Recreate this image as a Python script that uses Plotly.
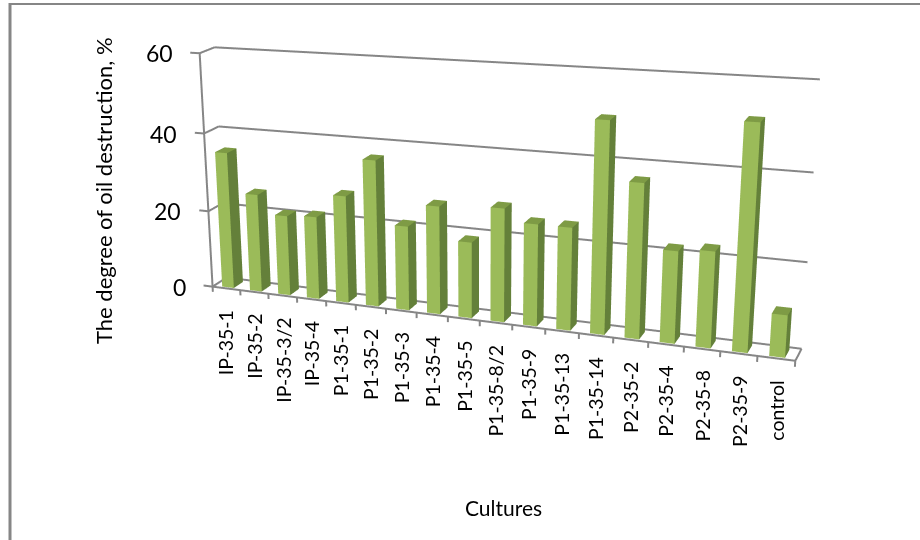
import plotly.graph_objects as go

categories = ["IP-35-1", "IP-35-2", "IP-35-3/2", "IP-35-4", "P1-35-1", "P1-35-2", "P1-35-3",
              "P1-35-4", "P1-35-5", "P1-35-8/2", "P1-35-9", "P1-35-13", "P1-35-14", "P2-35-2",
              "P2-35-4", "P2-35-8", "P2-35-9", "control"]
destruction = [35.2, 25.2, 20.5, 21.0, 27.0, 36.5, 21.0, 26.7, 18.7, 27.7, 24.7, 24.7, 50.0, 36.5,
               21.7, 22.5, 51.7, 9.8]
value_ticks = [0, 20, 40, 60]

FACE, SIDE, TOP = "#9BBB59", "#64803A", "#7E9B45"
GRID = "#868686"
FONT = "Lato"

# The walls of the box lean, so heights and depths slide sideways as they grow.
X_PER_DEPTH, X_PER_VALUE, Y_PER_VALUE = 0.24611, -0.01107, 0.13321
BAR_HALF_WIDTH = 0.21
BAR_FRONT, BAR_BACK = 0.12, 0.78


def place(cat, depth, value):
    return (cat + X_PER_DEPTH * depth + X_PER_VALUE * value,
            depth + Y_PER_VALUE * value,
            value)


# Bars: front, right side and top faces of each column.
vx, vy, vz, ti, tj, tk, colors = [], [], [], [], [], [], []
for n, val in enumerate(destruction):
    left, right = n + 0.5 - BAR_HALF_WIDTH, n + 0.5 + BAR_HALF_WIDTH
    corners = [(left, BAR_FRONT, 0), (right, BAR_FRONT, 0), (right, BAR_FRONT, val), (left, BAR_FRONT, val),
               (right, BAR_BACK, 0), (right, BAR_BACK, val), (left, BAR_BACK, val)]
    base = len(vx)
    for c in corners:
        px, py, pz = place(*c)
        vx.append(px); vy.append(py); vz.append(pz)
    quads = [((0, 1, 2, 3), FACE), ((1, 4, 5, 2), SIDE), ((3, 2, 5, 6), TOP)]
    for (a, b, c, d), col in quads:
        ti += [base + a, base + a]
        tj += [base + b, base + c]
        tk += [base + c, base + d]
        colors += [col, col]

bars = go.Mesh3d(x=vx, y=vy, z=vz, i=ti, j=tj, k=tk, facecolor=colors, flatshading=True,
                 lighting=dict(ambient=1, diffuse=0, specular=0, fresnel=0), hoverinfo="skip")

# Box edges, grid lines and tick marks.
lx, ly, lz = [], [], []


def segment(a, b):
    for p in (place(*a), place(*b)):
        lx.append(p[0]); ly.append(p[1]); lz.append(p[2])
    lx.append(None); ly.append(None); lz.append(None)


n_cat = len(categories)
for v in value_ticks:
    segment((0, 1, v), (n_cat, 1, v))
    segment((0, 0, v), (0, 1, v))
    segment((-0.33, 0, v), (0, 0, v))
segment((0, 0, 0), (0, 0, value_ticks[-1]))
segment((0, 0, 0), (n_cat, 0, 0))
segment((n_cat, 0, 0), (n_cat, 1, 0))
for n in range(n_cat + 1):
    segment((n, 0, 0), (n, 0, -1.4))

grid = go.Scatter3d(x=lx, y=ly, z=lz, mode="lines", line=dict(color=GRID, width=4), hoverinfo="skip")

scene_notes = []
for n, name in enumerate(categories):
    px, py, pz = place(n + 0.5, 0, 0)
    scene_notes.append(dict(x=px, y=py, z=pz, text=name, textangle=-90, showarrow=False,
                            xanchor="center", yanchor="top", yshift=-20,
                            font=dict(family=FONT, size=19.5, color="#000000")))
for v in value_ticks:
    px, py, pz = place(0, 0, v)
    scene_notes.append(dict(x=px, y=py, z=pz, text=str(v), showarrow=False,
                            xanchor="right", yanchor="middle", xshift=-25,
                            font=dict(family=FONT, size=23, color="#000000")))

hidden = dict(visible=False)
fig = go.Figure([grid, bars])
fig.update_layout(
    width=920, height=540, margin=dict(l=0, r=0, t=0, b=0),
    paper_bgcolor="white", showlegend=False,
    scene=dict(
        domain=dict(x=[0, 1], y=[0, 1]),
        xaxis=dict(range=[-2, 20], **hidden),
        yaxis=dict(range=[-1, 10], **hidden),
        zaxis=dict(range=[-2, 62], **hidden),
        aspectmode="manual",
        aspectratio=dict(x=1.2222, y=0.3078, z=0.3700),
        camera=dict(
            eye=dict(x=0.160773, y=-0.890638, z=0.615271),
            center=dict(x=-0.022757, y=-0.155811, z=-0.037681),
            up=dict(x=-0.11072, y=0.644556, z=0.756498),
            projection=dict(type="perspective"),
        ),
        annotations=scene_notes,
    ),
    shapes=[
        dict(type="line", xref="paper", yref="paper", x0=10 / 920, x1=10 / 920, y0=0, y1=1 - 3 / 540,
             line=dict(color=GRID, width=3)),
        dict(type="line", xref="paper", yref="paper", x0=9 / 920, x1=1, y0=1 - 4 / 540, y1=1 - 4 / 540,
             line=dict(color=GRID, width=2)),
    ],
    annotations=[
        dict(xref="paper", yref="paper", x=104 / 920, y=1 - 191 / 540, text="The degree of oil destruction, %",
             textangle=-90, showarrow=False, xanchor="center", yanchor="middle",
             font=dict(family=FONT, size=22, color="#000000")),
        dict(xref="paper", yref="paper", x=504 / 920, y=1 - 507 / 540, text="Cultures",
             showarrow=False, xanchor="center", yanchor="middle",
             font=dict(family=FONT, size=21, color="#000000")),
    ],
)
fig.write_html("out.html", config=dict(displayModeBar=False))
